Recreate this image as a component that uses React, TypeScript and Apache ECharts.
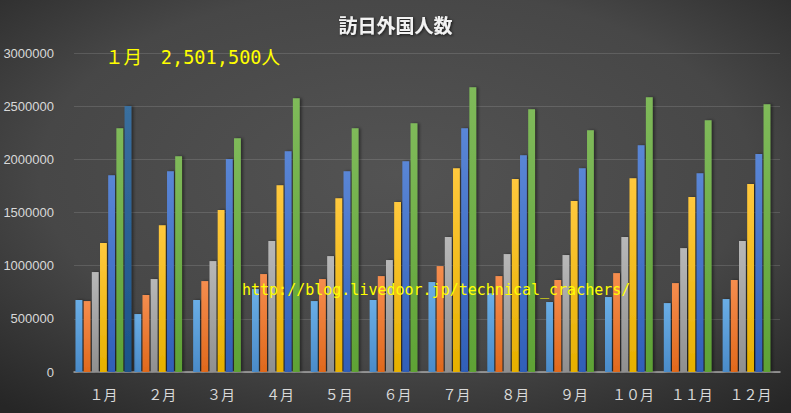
import React, { useEffect, useRef } from "react";
import * as echarts from "echarts";

const categories = ["１月", "２月", "３月", "４月", "５月", "６月", "７月", "８月", "９月", "１０月", "１１月", "１２月"];
const yTicks = [0, 500000, 1000000, 1500000, 2000000, 2500000, 3000000];

const y2012 = [677000, 545000, 677000, 780000, 667000, 677000, 846000, 740000, 658000, 705000, 648000, 686000];
const y2013 = [667000, 724000, 855000, 921000, 874000, 902000, 996000, 902000, 865000, 930000, 836000, 865000];
const y2014 = [940000, 874000, 1043000, 1231000, 1090000, 1053000, 1269000, 1109000, 1100000, 1269000, 1165000, 1231000];
const y2015 = [1212000, 1381000, 1523000, 1757000, 1635000, 1598000, 1917000, 1814000, 1607000, 1823000, 1645000, 1767000];
const y2016 = [1851000, 1889000, 2002000, 2077000, 1889000, 1983000, 2293000, 2039000, 1917000, 2133000, 1870000, 2049000];
const y2017 = [2293000, 2030000, 2199000, 2575000, 2293000, 2340000, 2679000, 2472000, 2274000, 2585000, 2368000, 2519000];
const y2018 = [2501500, null, null, null, null, null, null, null, null, null, null, null];

const seriesNames = ["2012", "2013", "2014", "2015", "2016", "2017", "2018"];
const seriesData = [y2012, y2013, y2014, y2015, y2016, y2017, y2018];
const seriesColors = [
  ["#6aaee6", "#4a8bc9"],
  ["#f58d4e", "#e0691c"],
  ["#b8b8b8", "#8f8f8f"],
  ["#ffc83d", "#e6b000"],
  ["#5a86d6", "#2f5fb8"],
  ["#7fba5a", "#5ea235"],
  ["#3a6f9f", "#1b5289"],
];

const titleText = "訪日外国人数";
const noteText = "１月　2,501,500人";
const urlText = "http://blog.livedoor.jp/technical_crachers/";

export default function App() {
  const ref = useRef<HTMLDivElement>(null);
  useEffect(() => {
    document.body.style.margin = "0";
    const chart = echarts.init(ref.current!, null, { renderer: "svg" });
    chart.setOption({
      animation: false,
      backgroundColor: {
        type: "radial",
        x: 0.5,
        y: 0.42,
        r: 0.75,
        colorStops: [
          { offset: 0, color: "#535353" },
          { offset: 0.6, color: "#474747" },
          { offset: 1, color: "#262626" },
        ],
      },
      title: {
        text: titleText,
        left: "center",
        top: 10,
        textStyle: {
          color: "#f2f2f2",
          fontSize: 19,
          fontWeight: "bold",
          fontFamily: "Noto Sans CJK JP",
          textShadowColor: "rgba(0,0,0,0.7)",
          textShadowBlur: 3,
          textShadowOffsetX: 1,
          textShadowOffsetY: 1,
        },
      },
      grid: { left: 74, right: 11, top: 53, bottom: 41, outerBoundsMode: "none", containLabel: false },
      xAxis: {
        type: "category",
        data: categories,
        axisLine: { lineStyle: { color: "#a6a6a6", width: 1.5 } },
        axisTick: { show: false },
        axisLabel: {
          color: "#d9d9d9",
          fontSize: 14,
          fontFamily: "Noto Sans CJK JP",
          margin: 15,
        },
      },
      yAxis: {
        type: "value",
        min: yTicks[0],
        max: yTicks[yTicks.length - 1],
        interval: 500000,
        axisLine: { show: false },
        axisTick: { show: false },
        splitLine: { lineStyle: { color: "rgba(255,255,255,0.13)", width: 1 } },
        axisLabel: {
          color: "#d9d9d9",
          fontSize: 13,
          fontFamily: "Liberation Sans",
          margin: 20,
          formatter: (v: number) => String(v),
        },
      },
      series: seriesData.map((d, i) => ({
        name: seriesNames[i],
        type: "bar",
        data: d,
        barGap: "20%",
        barCategoryGap: "5%",
        itemStyle: {
          color: {
            type: "linear",
            x: 0,
            y: 0,
            x2: 0,
            y2: 1,
            colorStops: [
              { offset: 0, color: seriesColors[i][0] },
              { offset: 1, color: seriesColors[i][1] },
            ],
          },
          shadowColor: "rgba(0,0,0,0.45)",
          shadowBlur: 3,
          shadowOffsetX: 2,
          shadowOffsetY: 0,
        },
      })),
      graphic: [
        {
          type: "text",
          left: 105,
          top: 48,
          z: 100,
          style: {
            text: noteText,
            fill: "#ffff00",
            fontSize: 18.6,
            fontFamily: "DejaVu Sans Mono, Noto Sans CJK JP",
          },
        },
        {
          type: "text",
          left: 242,
          top: 282,
          z: 100,
          style: {
            text: urlText,
            fill: "#ffff00",
            fontSize: 15,
            fontFamily: "DejaVu Sans Mono",
          },
        },
      ],
    });
    return () => chart.dispose();
  }, []);
  return <div ref={ref} style={{ width: 791, height: 413 }} />;
}
